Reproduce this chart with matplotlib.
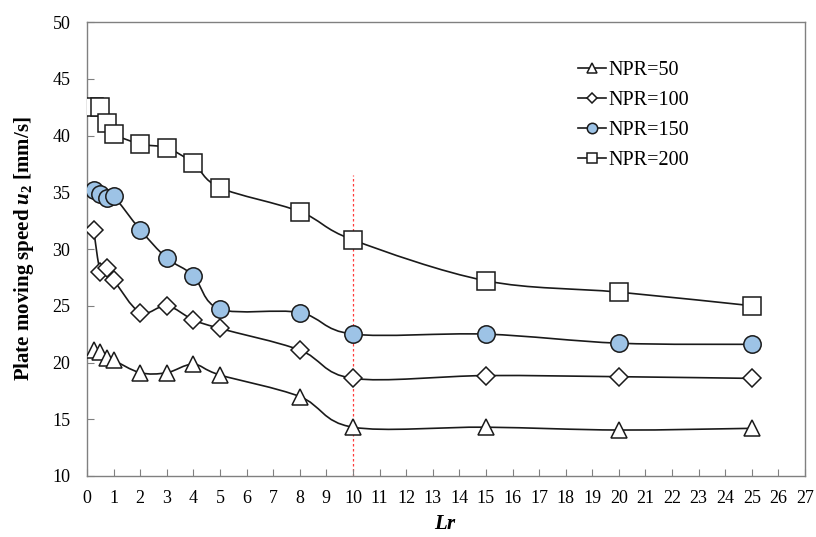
import numpy as np
import matplotlib.pyplot as plt
from matplotlib.path import Path
from matplotlib.patches import PathPatch
from matplotlib.lines import Line2D

plt.rcParams['font.family'] = ['Liberation Serif', 'DejaVu Serif']
plt.rcParams['mathtext.fontset'] = 'custom'
plt.rcParams['mathtext.rm'] = 'Liberation Serif'
plt.rcParams['mathtext.it'] = 'Liberation Serif:italic'
plt.rcParams['mathtext.bf'] = 'Liberation Serif:bold'
plt.rcParams['mathtext.bfit'] = 'Liberation Serif:bold:italic'

# Lr values shared by every series
lr = [0.25, 0.5, 0.75, 1, 2, 3, 4, 5, 8, 10, 15, 20, 25]

npr50 = [21.1, 20.95, 20.4, 20.2, 19.1, 19.1, 19.85, 18.9, 17.0, 14.3, 14.3, 14.05, 14.2]
npr100 = [31.7, 28.0, 28.3, 27.3, 24.4, 25.0, 23.75, 23.0, 21.1, 18.6, 18.85, 18.75, 18.6]
npr150 = [35.2, 34.85, 34.5, 34.65, 31.7, 29.2, 27.65, 24.7, 24.4, 22.5, 22.5, 21.7, 21.6]
npr200 = [42.55, 42.55, 41.1, 40.15, 39.25, 38.9, 37.55, 35.4, 33.3, 30.8, 27.2, 26.2, 25.0]

labels = ['NPR=50', 'NPR=100', 'NPR=150', 'NPR=200']
series = [npr50, npr100, npr150, npr200]
markers = ['^', 'D', 'o', 's']
msizes = [12, 9, 12.5, 12.5]
faces = ['white', 'white', '#9dc3e6', 'white']

limit_lr = 10
limit_top = 36.5


def smooth_path(x, y):
    # Catmull-Rom segments written as cubic Bezier curves
    p = np.column_stack([x, y]).astype(float)
    n = len(p)
    verts = [p[0]]
    codes = [Path.MOVETO]
    for i in range(n - 1):
        p0 = p[i - 1] if i > 0 else p[i]
        p3 = p[i + 2] if i + 2 < n else p[i + 1]
        c1 = p[i] + (p[i + 1] - p0) / 6.0
        c2 = p[i + 1] - (p3 - p[i]) / 6.0
        verts += [c1, c2, p[i + 1]]
        codes += [Path.CURVE4] * 3
    return Path(verts, codes)


fig = plt.figure(figsize=(8.16, 5.37), dpi=100)
ax = fig.add_axes([0.1066, 0.1136, 0.88, 0.8454])

for y, lab, m, ms, fc in zip(series, labels, markers, msizes, faces):
    ax.add_patch(PathPatch(smooth_path(lr, y), facecolor='none',
                           edgecolor='#1a1a1a', lw=1.2, zorder=2))
    ax.plot(lr, y, linestyle='none', marker=m, ms=ms, mfc=fc,
            mec='#1a1a1a', mew=1.1, zorder=3)

ax.plot([limit_lr, limit_lr], [10, limit_top], color='#ff3b3b',
        lw=0.9, ls=(0, (2, 2)), zorder=1)

ax.set_xlim(0, 27)
ax.set_ylim(10, 50)
ax.set_xticks(np.arange(0, 28, 1))
ax.set_yticks(np.arange(10, 51, 5))
ax.tick_params(axis='x', direction='in', length=5, width=0.8,
               color='#808080', labelsize=13, pad=10)
ax.tick_params(axis='y', direction='in', length=5, width=0.8,
               color='#808080', labelsize=13, pad=12)
for s in ax.spines.values():
    s.set_color('#808080')
    s.set_linewidth(1.0)

ax.set_xlabel(r'$\boldsymbol{Lr}$', fontsize=15, labelpad=6)
ax.set_ylabel(r'Plate moving speed $\mathbfit{u}_{\mathbf{2}}$ [mm/s]',
              fontsize=15, fontweight='bold', labelpad=12)

handles = [Line2D([], [], color='#1a1a1a', lw=1.2, marker=m, ms=ms,
                  mfc=fc, mec='#1a1a1a', mew=1.1)
           for m, ms, fc in zip(markers, msizes, faces)]
fig.legend(handles, labels, loc='upper left',
           bbox_to_anchor=(560 / 816, 1 - 43 / 537), frameon=False,
           fontsize=14.5, markerscale=0.6, handlelength=1.4,
           handletextpad=0.1, labelspacing=0.54)

fig.savefig('out.png', dpi=100)
